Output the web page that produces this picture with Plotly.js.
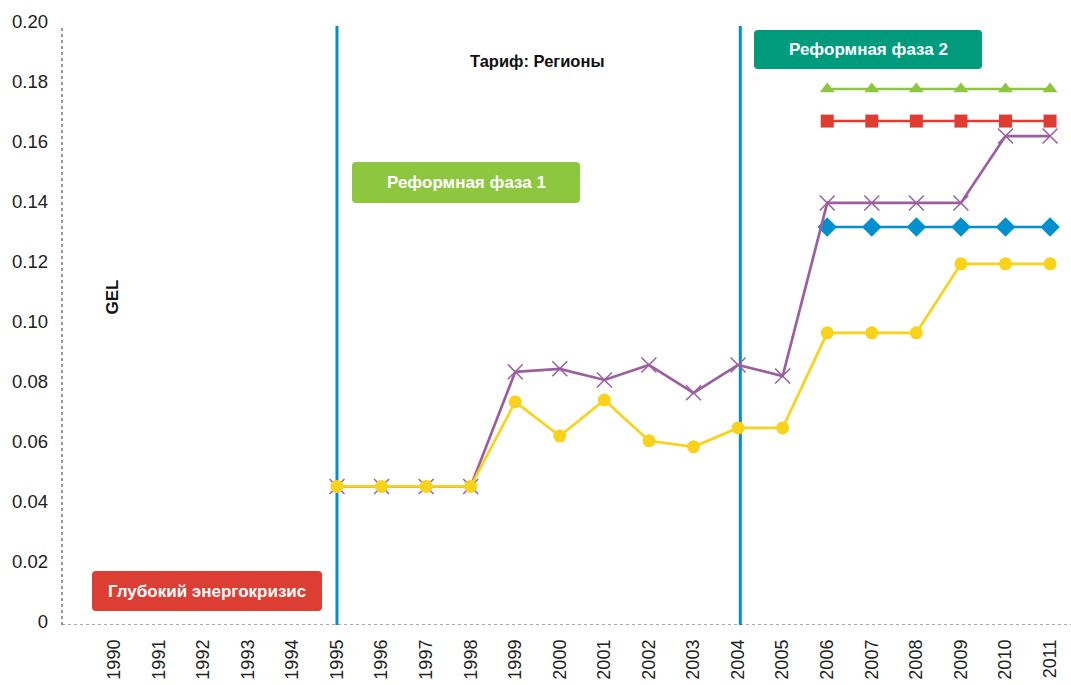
<!DOCTYPE html>
<html><head><meta charset="utf-8">
<script src="https://cdn.plot.ly/plotly-3.0.1.min.js"></script>
<style>html,body{margin:0;padding:0;background:#fff}#chart{width:1071px;height:685px}</style>
</head><body><div id="chart"></div>
<script>
const years = [1990,1991,1992,1993,1994,1995,1996,1997,1998,1999,2000,2001,2002,2003,2004,2005,2006,2007,2008,2009,2010,2011];
const yearsA = [1995,1996,1997,1998,1999,2000,2001,2002,2003,2004,2005,2006,2007,2008,2009,2010,2011];
const yellowVals = [0.045,0.045,0.045,0.045,0.0732,0.0618,0.0738,0.0602,0.0582,0.0645,0.0645,0.0962,0.0962,0.0962,0.1192,0.1192,0.1192];
const purpleVals = [0.045,0.045,0.045,0.045,0.0832,0.0842,0.0805,0.0855,0.0762,0.0855,0.0818,0.1395,0.1395,0.1395,0.1395,0.1618,0.1618];
const yearsB = [2006,2007,2008,2009,2010,2011];
const blueVals = [0.1315,0.1315,0.1315,0.1315,0.1315,0.1315];
const redVals = [0.1668,0.1668,0.1668,0.1668,0.1668,0.1668];
const greenVals = [0.1775,0.1775,0.1775,0.1775,0.1775,0.1775];
const yTicks = [0,0.02,0.04,0.06,0.08,0.10,0.12,0.14,0.16,0.18,0.20];
const yTickText = ['0','0.02','0.04','0.06','0.08','0.10','0.12','0.14','0.16','0.18','0.20'];
const phaseYears = [1995,2004.05];
const boxLabels = ['Реформная фаза 1','Реформная фаза 2','Глубокий энергокризис'];

const F = 'Liberation Sans, Arial, sans-serif';
const traces = [
 {x:yearsB,y:greenVals,mode:'lines+markers',line:{color:'#8DC63F',width:2.5},marker:{symbol:'triangle-up',size:13,color:'#8DC63F'}},
 {x:yearsB,y:redVals,mode:'lines+markers',line:{color:'#E03C31',width:2.5},marker:{symbol:'square',size:13,color:'#E03C31'}},
 {x:yearsB,y:blueVals,mode:'lines+markers',line:{color:'#0090CF',width:2.5},marker:{symbol:'diamond',size:15,color:'#0090CF'}},
 {x:yearsA,y:purpleVals,mode:'lines+markers',line:{color:'#9B5FA0',width:2.7},marker:{symbol:'x-thin',size:15,color:'#9B5FA0',line:{color:'#9B5FA0',width:1.5}}},
 {x:yearsA,y:yellowVals,mode:'lines+markers',line:{color:'#F9D21A',width:2.7},marker:{symbol:'circle',size:13,color:'#F9D21A'}}
];
const W=1009, H=605;
function px(x){return (x-62)/W;}
function py(y){return (625-y)/H;}
function rrect(x0,y0,x1,y1,r,color){
 const X=v=>px(v).toFixed(5), Y=v=>py(v).toFixed(5);
 const p='M'+X(x0+r)+','+Y(y0)+' L'+X(x1-r)+','+Y(y0)+' Q'+X(x1)+','+Y(y0)+' '+X(x1)+','+Y(y0+r)+
  ' L'+X(x1)+','+Y(y1-r)+' Q'+X(x1)+','+Y(y1)+' '+X(x1-r)+','+Y(y1)+
  ' L'+X(x0+r)+','+Y(y1)+' Q'+X(x0)+','+Y(y1)+' '+X(x0)+','+Y(y1-r)+
  ' L'+X(x0)+','+Y(y0+r)+' Q'+X(x0)+','+Y(y0)+' '+X(x0+r)+','+Y(y0)+' Z';
 return {type:'path',xref:'paper',yref:'paper',path:p,fillcolor:color,line:{width:0},layer:'above'};
}
const shapes = phaseYears.map(v=>({type:'line',xref:'x',yref:'y',x0:v,x1:v,y0:-0.0012,y1:0.1985,line:{color:'#0090CF',width:3},layer:'below'}));
shapes.push({type:'line',xref:'paper',yref:'y',x0:0,x1:0,y0:-0.0012,y1:0.1985,line:{color:'#555',width:1.2,dash:'dot'}});
shapes.push({type:'line',xref:'paper',yref:'y',x0:0,x1:1,y0:-0.0012,y1:-0.0012,line:{color:'#555',width:1.2,dash:'dot'}});
const boxes = [[352,162,580,203,'#8DC63F'],[754,30,982,69,'#009B7D'],[92,571,322,611,'#DC3E33']];
boxes.forEach(b=>shapes.push(rrect(b[0],b[1],b[2],b[3],4,b[4])));

const annotations = boxes.map((b,i)=>({text:'<b>'+boxLabels[i]+'</b>',xref:'paper',yref:'paper',x:px((b[0]+b[2])/2),y:py((b[1]+b[3])/2),
  xanchor:'center',yanchor:'middle',showarrow:false,font:{family:F,size:17,color:'#fff'}}));
annotations.push({text:'<b>Тариф: Регионы</b>',xref:'paper',yref:'paper',x:px(537),y:py(50),showarrow:false,font:{family:F,size:16.5,color:'#111'}});
annotations.push({text:'<b>GEL</b>',xref:'paper',yref:'paper',x:px(100),y:py(297),showarrow:false,textangle:-90,font:{family:F,size:17,color:'#111'}});

const layout = {
 width:1071,height:685,margin:{l:62,r:0,t:20,b:60},paper_bgcolor:'#fff',plot_bgcolor:'#fff',showlegend:false,
 font:{family:F,size:18,color:'#222'},
 xaxis:{range:[1988.83,2011.47],tickvals:years,ticktext:years.map(String),tickangle:-90,showgrid:false,zeroline:false,showline:false,ticks:'',ticklabelstandoff:10,tickfont:{family:F,size:18,color:'#222'}},
 yaxis:{range:[-0.0012,0.2005],tickvals:yTicks,ticktext:yTickText,showgrid:false,zeroline:false,showline:false,ticks:'',ticklabelstandoff:13,tickfont:{family:F,size:18.5,color:'#222'}},
 shapes:shapes,annotations:annotations
};
Plotly.newPlot('chart',traces,layout,{displayModeBar:false});
</script></body></html>
